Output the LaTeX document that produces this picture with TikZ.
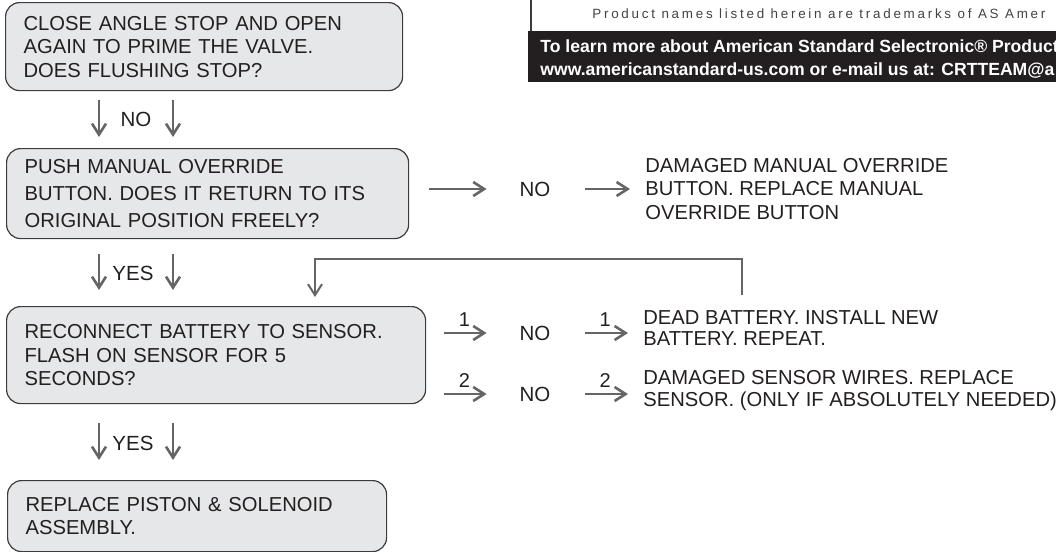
\documentclass[tikz,border=0pt]{standalone}
\usepackage{fontspec}
\setmainfont{Liberation Sans}
\newfontfamily\notefont[LetterSpace=20.5]{Liberation Sans}
\usetikzlibrary{arrows.meta}

\definecolor{boxfill}{HTML}{E6E7E8}
\definecolor{boxline}{HTML}{3C3C3E}
\definecolor{arrowgray}{HTML}{646567}
\definecolor{inktext}{HTML}{231F20}

\tikzset{
  qbox/.style={draw=boxline, line width=0.6pt, fill=boxfill, rounded corners=7pt,
    anchor=north west, align=left, inner xsep=9pt, text=inktext},
  flow/.style={draw=arrowgray, line width=1.3pt, -{Straight Barb[length=5.5pt,width=7pt]}},
  answer/.style={text=inktext, inner sep=0pt, font=\fontsize{10.25}{12}\selectfont},
  fixtext/.style={text=inktext, anchor=west, align=left, inner sep=0pt},
  step label/.style={above=1.5pt, inner sep=1pt, text=inktext, font=\fontsize{10}{11}\selectfont},
}

\begin{document}
\begin{tikzpicture}[x=0.5pt, y=-0.5pt]
	\clip (0,0) rectangle (1056,552);

	% notice panel, top right
	\fill[inktext] (528,31) rectangle (1056,82);
	\draw[boxline, line width=0.6pt] (531,0) -- (531,31);
	\node[anchor=west, inner sep=0pt, text=inktext!85, font=\notefont\fontsize{6.7}{7}\selectfont] (note) at (592,14) {Product names listed herein are trademarks of AS Amer};
	\node[anchor=west, align=left, inner sep=0pt, text=white, font=\bfseries\fontsize{8.8}{11.5}\selectfont] (info) at (540,59) {To learn more about American Standard Selectronic® Product\\www.americanstandard-us.com or e-mail us at: CRTTEAM@a};

	% question boxes
	\node[qbox, text width=180.5pt, minimum height=44pt, font=\fontsize{10.1}{11.75}\selectfont] (q1) at (5,2) {CLOSE ANGLE STOP AND OPEN\\AGAIN TO PRIME THE VALVE.\\DOES FLUSHING STOP?};
	\node[qbox, text width=183pt, minimum height=45pt, font=\fontsize{10.1}{13.5}\selectfont] (q2) at (6,148) {PUSH MANUAL OVERRIDE\\BUTTON. DOES IT RETURN TO ITS\\ORIGINAL POSITION FREELY?};
	\node[qbox, text width=191.5pt, minimum height=48.5pt, font=\fontsize{10.1}{11.75}\selectfont] (q3) at (6,306) {RECONNECT BATTERY TO SENSOR.\\FLASH ON SENSOR FOR 5\\SECONDS?};
	\node[qbox, text width=171.5pt, minimum height=35.5pt, font=\fontsize{10.1}{11.5}\selectfont] (q4) at (7,480) {REPLACE PISTON \& SOLENOID\\ASSEMBLY.};

	% answers down the left
	\coordinate (colL) at (99,0);
	\coordinate (colR) at (173,0);
	\node[answer] (ans1) at (136,119) {NO};
	\node[answer] (ans2) at (133,273) {YES};
	\node[answer] (ans3) at (133,443) {YES};

	\draw[flow, shorten <=4.5pt, shorten >=5.5pt] (q1.south -| colL) -- (q2.north -| colL);
	\draw[flow, shorten <=4.5pt, shorten >=5.5pt] (q1.south -| colR) -- (q2.north -| colR);
	\draw[flow, shorten <=7.5pt, shorten >=8pt] (q2.south -| colL) -- (q3.north -| colL);
	\draw[flow, shorten <=7.5pt, shorten >=8pt] (q2.south -| colR) -- (q3.north -| colR);
	\draw[flow, shorten <=9.5pt, shorten >=10pt] (q3.south -| colL) -- (q4.north -| colL);
	\draw[flow, shorten <=9.5pt, shorten >=10pt] (q3.south -| colR) -- (q4.north -| colR);

	% answers to the right
	\node[answer, minimum width=32pt] (no2) at (535,189) {NO};
	\node[answer, minimum width=32pt] (no3a) at (535,333) {NO};
	\node[answer, minimum width=32pt] (no3b) at (535,394) {NO};

	\node[fixtext, font=\fontsize{10.1}{11.75}\selectfont] (fix2) at (645,189) {DAMAGED MANUAL OVERRIDE\\BUTTON. REPLACE MANUAL\\OVERRIDE BUTTON};
	\node[fixtext, font=\fontsize{10.1}{10.75}\selectfont] (fix3a) at (643,328) {DEAD BATTERY. INSTALL NEW\\BATTERY. REPEAT.};
	\node[fixtext, font=\fontsize{10.1}{11}\selectfont] (fix3b) at (643,391) {DAMAGED SENSOR WIRES. REPLACE\\SENSOR. (ONLY IF ABSOLUTELY NEEDED)};

	\draw[flow, shorten <=10pt, shorten >=8pt] (q2.east |- no2.west) -- (no2.west);
	\draw[flow, shorten <=9pt, shorten >=7.5pt] (no2.east) -- (no2.east -| fix2.west);

	\draw[flow, shorten <=9pt, shorten >=8pt] (q3.east |- no3a.west) -- node[step label] {1} (no3a.west);
	\draw[flow, shorten <=9pt, shorten >=7.5pt] (no3a.east) -- node[step label] {1} (no3a.east -| fix3a.west);
	\draw[flow, shorten <=9pt, shorten >=8pt] (q3.east |- no3b.west) -- node[step label] {2} (no3b.west);
	\draw[flow, shorten <=9pt, shorten >=7.5pt] (no3b.east) -- node[step label] {2} (no3b.east -| fix3b.west);

	% back to the battery check
	\coordinate (fbfoot) at (742,295);
	\coordinate (fbturn) at (315,259);
	\draw[flow, line width=1pt, shorten >=4.5pt] (fbfoot) |- (fbturn) -- (fbturn |- q3.north);
\end{tikzpicture}
\end{document}
